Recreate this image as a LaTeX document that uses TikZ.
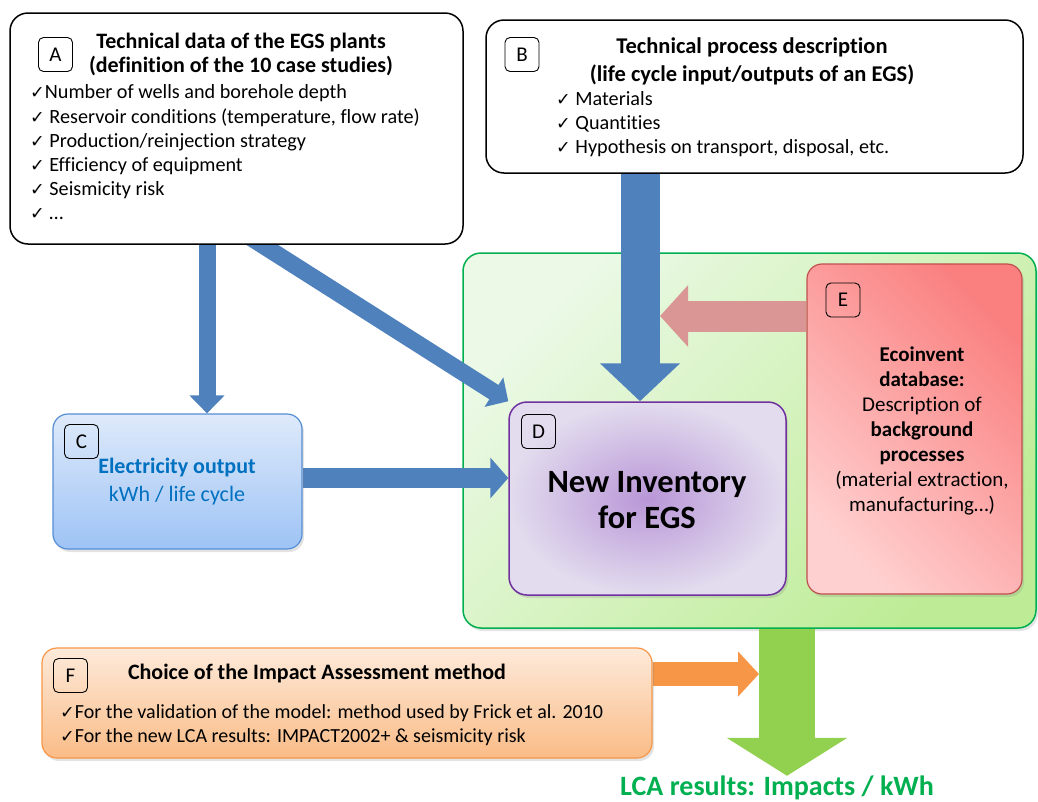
\documentclass[tikz,border=0pt]{standalone}
\usepackage{fontspec}
\setmainfont{Carlito}[Ligatures=CommonOff]
\newfontfamily\symfont{DejaVu Sans}
\usepackage{xcolor}
\usepackage{tikz}
\usetikzlibrary{arrows.meta}
\usetikzlibrary{positioning,shadows,calc}
\pgfdeclarelayer{back}
\pgfdeclarelayer{mid}
\pgfsetlayers{back,mid,main}
\definecolor{egsblue}{RGB}{79,129,189}
\definecolor{egspink}{RGB}{217,150,148}
\definecolor{egsorange}{RGB}{247,150,70}
\definecolor{egsgreen}{RGB}{146,208,80}
\definecolor{lcagreen}{RGB}{0,176,80}
\definecolor{elecblue}{RGB}{0,112,192}
\newcommand{\chk}{{\symfont\fontsize{17.5}{17.5}\selectfont ✓}}

\begin{document}
\begin{tikzpicture}[x=1pt, y=-1pt,
	box/.style={draw, rounded corners=18pt, line width=1.5pt, inner sep=0pt},
	shd/.style={drop shadow={opacity=0.22, shadow xshift=2pt, shadow yshift=-3pt}},
	tag/.style={draw, rounded corners=5pt, line width=0.9pt, minimum size=34pt, inner sep=0pt, font=\fontsize{21}{21}\selectfont},
	txt/.style={inner sep=0pt, align=center, font=\fontsize{21}{25}\selectfont},
	lst/.style={inner sep=0pt, align=left, font=\fontsize{20.2}{24.2}\selectfont},
	blk/.style n args={3}{line width=#1, -{Triangle[width=#2, length=#3]}}]
		
		\useasboundingbox (0,0) rectangle (1038,801);
		
		\begin{pgfonlayer}{back}
		\node[box, shd, draw=lcagreen, top color={rgb,255:red,235;green,249;blue,230}, bottom color={rgb,255:red,190;green,236;blue,150}, shading angle=45, minimum width=573pt, minimum height=375pt] (G) at (749.5,440.5) {};
		\end{pgfonlayer}
		
		\node[box, fill=white, minimum width=453pt, minimum height=231pt] (A) at (236.5,128.5) {};
		\node[tag] (tA) at (55.5,54.5) {A};
		\node[txt, font=\bfseries\fontsize{22}{24}\selectfont] (Atitle) at (241,54) {Technical data of the EGS plants\\(definition of the 10 case studies)};
		\node[lst, anchor=west] (Alist) at (30,152.5) {\chk Number of wells and borehole depth\\
			\chk\ Reservoir conditions (temperature, flow rate)\\
			\chk\ Production/reinjection strategy\\
			\chk\ Efficiency of equipment\\
			\chk\ Seismicity risk\\
			\chk\ …};
		
		\node[box, fill=white, minimum width=537pt, minimum height=153pt] (B) at (754.5,96.5) {};
		\node[tag] (tB) at (522,54.5) {B};
		\node[txt, font=\bfseries\fontsize{22.5}{28}\selectfont] (Btitle) at (752,61) {Technical process description\\(life cycle input/outputs of an EGS)};
		\node[lst, anchor=west] (Blist) at (556,124) {\chk\ Materials\\
			\chk\ Quantities\\
			\chk\ Hypothesis on transport, disposal, etc.};
		
		\node[box, shd, rounded corners=15pt, line width=1.2pt, draw={rgb,255:red,85;green,142;blue,213}, top color={rgb,255:red,222;green,234;blue,250}, bottom color={rgb,255:red,158;green,195;blue,245}, minimum width=249pt, minimum height=135pt] (C) at (177.5,481.5) {};
		\node[tag] (tC) at (81.5,441.5) {C};
		\node[txt, font=\fontsize{22}{28}\selectfont, text=elecblue] (Ctext) at (177,482) {\textbf{Electricity output}\\kWh / life cycle};
		
		\node[box, shd, draw={rgb,255:red,112;green,48;blue,160}, inner color={rgb,255:red,185;green,150;blue,215}, outer color={rgb,255:red,226;green,220;blue,238}, minimum width=277pt, minimum height=193pt] (D) at (647.5,498.5) {};
		\node[tag] (tD) at (538.5,431.5) {D};
		\node[txt, font=\bfseries\fontsize{32.5}{36}\selectfont] (Dtext) at (647,500) {New Inventory\\for EGS};
		
		\node[box, shd, rounded corners=15pt, line width=1.2pt, draw={rgb,255:red,192;green,80;blue,77}, top color={rgb,255:red,250;green,128;blue,128}, bottom color={rgb,255:red,255;green,208;blue,208}, shading angle=-45, minimum width=215pt, minimum height=330pt] (E) at (914.5,429) {};
		\node[tag] (tE) at (843,300) {E};
		\node[txt, font=\fontsize{21}{25}\selectfont] (Etext) at (922,431) {\textbf{Ecoinvent}\\\textbf{database:}\\Description of\\\textbf{background}\\\textbf{processes}\\(material extraction,\\manufacturing…)};
		
		\node[box, shd, rounded corners=15pt, line width=1.2pt, draw=egsorange, top color={rgb,255:red,253;green,234;blue,218}, bottom color={rgb,255:red,250;green,188;blue,135}, minimum width=610pt, minimum height=110pt] (F) at (347,703) {};
		\node[tag] (tF) at (70.5,675.5) {F};
		\node[txt, font=\bfseries\fontsize{22}{24}\selectfont] (Ftitle) at (317,673) {Choice of the Impact Assessment method};
		\node[lst, anchor=west, font=\fontsize{20}{24}\selectfont] (Flist) at (60,725) {\chk For the validation of the model: method used by Frick et al. 2010\\
			\chk For the new LCA results: IMPACT2002+ \& seismicity risk};
		
		\node[inner sep=0pt, text=lcagreen, font=\bfseries\fontsize{28}{30}\selectfont] (LCA) at (777,788) {LCA results: Impacts / kWh};
		
		\coordinate (Bshaft) at (660,316);
		\coordinate (Gshaft) at (759,674);
		
		\begin{pgfonlayer}{mid}
		\draw[egsblue, blk={17pt}{34pt}{18pt}] (207,0 |- A.south) -- (207,0 |- C.north);
		\draw[egsblue, blk={17pt}{34pt}{17pt}] ($(262,0 |- A.south)!-14pt!(D.north west)$) -- (D.north west);
		\draw[egsblue, blk={39pt}{78pt}{38pt}] (640,0 |- B.south) -- (640,0 |- D.north);
		\draw[egsblue, blk={20pt}{40pt}{18pt}] (C.east |- 0,478) -- (D.west |- 0,478);
		\draw[egspink, blk={31pt}{60pt}{28pt}] (E.west |- Bshaft) -- (Bshaft);
		\draw[egsorange, blk={24pt}{44pt}{21pt}] (F.east |- Gshaft) -- (Gshaft);
		\draw[egsgreen, blk={56pt}{119pt}{38pt}] (787,0 |- G.south) -- (787,0 |- LCA.north);
		\end{pgfonlayer}
		
\end{tikzpicture}
\end{document}
